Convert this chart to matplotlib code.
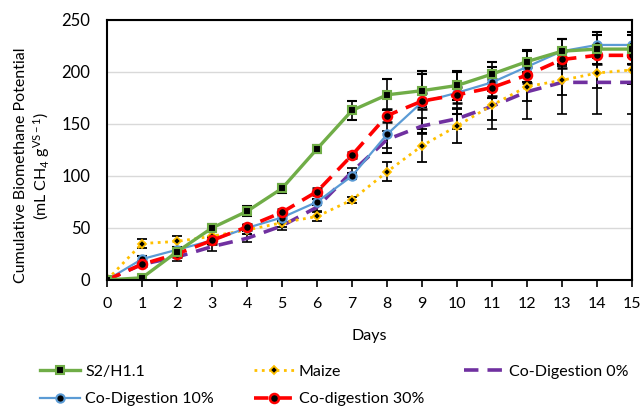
import matplotlib
matplotlib.use("Agg")
import matplotlib.pyplot as plt
from matplotlib.lines import Line2D

plt.rcParams['font.family'] = ['Lato', 'DejaVu Sans']
plt.rcParams['mathtext.fontset'] = 'custom'
plt.rcParams['mathtext.rm'] = 'Lato'
plt.rcParams['mathtext.it'] = 'Lato:italic'
plt.rcParams['mathtext.bf'] = 'Lato:bold'

days = list(range(16))
s2 = [0, 2, 27, 50, 66, 88, 126, 163, 178, 182, 187, 198, 210, 220, 222, 222]
maize = [0, 35, 37, 42, 48, 55, 61, 77, 104, 129, 148, 168, 186, 192, 199, 202]
codig0 = [0, 15, 22, 32, 40, 52, 70, 104, 135, 148, 155, 167, 181, 190, 190, 190]
codig10 = [0, 20, 29, 38, 50, 60, 75, 100, 140, 171, 180, 190, 205, 220, 226, 226]
codig30 = [0, 15, 25, 38, 51, 65, 85, 120, 158, 172, 178, 185, 197, 212, 216, 216]

s2_err = [0, 2, 3, 4, 5, 4, 4, 9, 15, 16, 14, 12, 11, 12, 14, 14]
maize_err = [0, 4, 5, 4, 4, 4, 4, 3, 9, 16, 16, 14, 14, 14, 14, 14]
codig0_err = [0, 3, 4, 4, 4, 4, 4, 4, 8, 8, 10, 22, 26, 30, 30, 30]
codig10_err = [0, 3, 3, 3, 3, 3, 3, 3, 18, 30, 20, 15, 15, 12, 12, 12]
codig30_err = [0, 2, 3, 3, 3, 3, 3, 3, 6, 8, 8, 8, 8, 8, 8, 8]

fig = plt.figure(figsize=(6.41, 4.08), dpi=100)
ax = fig.add_axes([0.167, 0.314, 0.819, 0.637])

eb_kw = dict(ecolor='black', elinewidth=1.2, capsize=3.5, capthick=1.2)

styles = {
    'c0': dict(color='#7030A0', lw=2.6, linestyle=(0, (4, 2.5))),
    'maize': dict(color='#FFC000', lw=2, linestyle=':', marker='D', ms=4.5,
                  mfc='black', mec='#FFC000', mew=1.3),
    'c10': dict(color='#5B9BD5', lw=1.6, marker='o', ms=6, mfc='black',
                mec='#5B9BD5', mew=1.5),
    'c30': dict(color='#FF0000', lw=2.6, linestyle=(0, (4, 2.5)), marker='o', ms=6.5,
                mfc='black', mec='#FF0000', mew=1.8),
    's2': dict(color='#70AD47', lw=2.4, marker='s', ms=6, mfc='black',
               mec='#70AD47', mew=1.5),
}

ax.errorbar(days, codig0, yerr=codig0_err, **styles['c0'], **eb_kw)
ax.errorbar(days, maize, yerr=maize_err, **styles['maize'], **eb_kw)
ax.errorbar(days, codig10, yerr=codig10_err, **styles['c10'], **eb_kw)
ax.errorbar(days, codig30, yerr=codig30_err, **styles['c30'], **eb_kw)
ax.errorbar(days, s2, yerr=s2_err, **styles['s2'], **eb_kw)

ax.set_xlim(0, 15)
ax.set_ylim(0, 250)
ax.set_xticks(days)
ax.set_yticks([0, 50, 100, 150, 200, 250])
ax.yaxis.grid(True, color='#D9D9D9', lw=1)
ax.set_axisbelow(True)
for s in ax.spines.values():
    s.set_linewidth(1.5)
    s.set_color('black')
ax.tick_params(axis='x', direction='out', length=5, width=1.2, labelsize=11.5, pad=7)
ax.tick_params(axis='y', length=0, labelsize=12, pad=12)
ax.set_xlabel('Days', fontsize=11.5)
ax.xaxis.set_label_coords(0.5, -0.19)
ax.set_ylabel('Cumulative Biomethane Potential\n(mL CH$_4$ g$^{\\mathregular{VS-1}}$)',
              fontsize=11.5)
ax.yaxis.set_label_coords(-0.105, 0.44)

def h(key):
    return Line2D([], [], **styles[key])

handles = [h('s2'), h('c10'), h('maize'), h('c30'), h('c0')]
labels = ['S2/H1.1', 'Co-Digestion 10%', 'Maize', 'Co-digestion 30%', 'Co-Digestion 0%']
fig.legend(handles, labels, ncol=3, loc='upper left', bbox_to_anchor=(0.063, 0.107),
           frameon=False, fontsize=11.5, handlelength=2.5, columnspacing=2.5,
           labelspacing=0.85, handletextpad=0.3, borderaxespad=0, borderpad=0)

fig.savefig('out.png', dpi=100)
